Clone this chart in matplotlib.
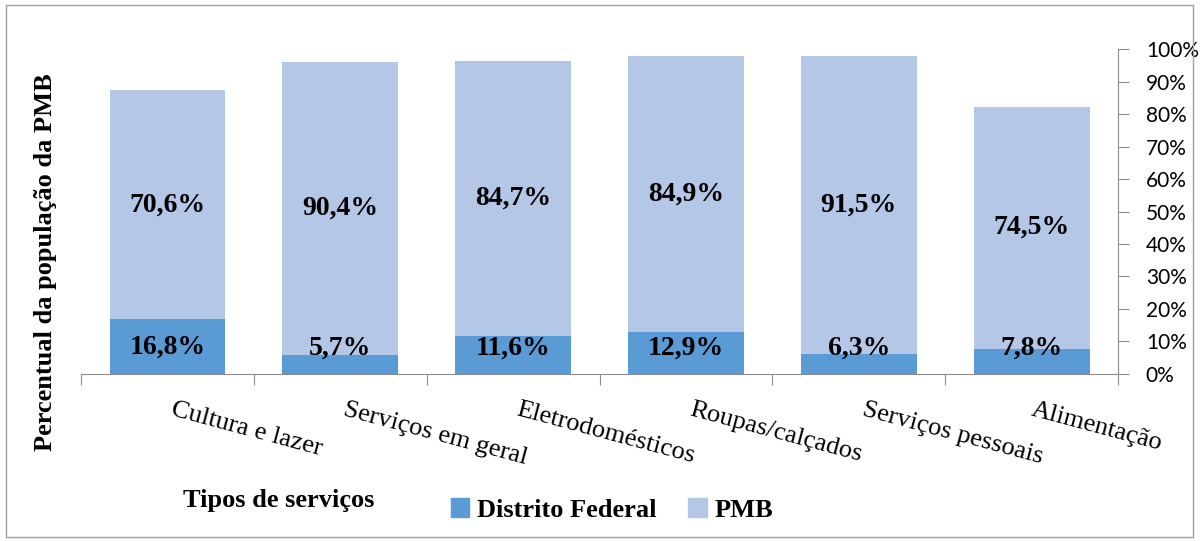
import numpy as np
import matplotlib
matplotlib.use('Agg')
import matplotlib.pyplot as plt
from matplotlib.patches import Rectangle, Patch
from matplotlib.ticker import FuncFormatter
from matplotlib.font_manager import FontProperties

categorias = ['Cultura e lazer', 'Serviços em geral', 'Eletrodomésticos',
              'Roupas/calçados', 'Serviços pessoais', 'Alimentação']
distrito_federal = np.array([16.8, 5.7, 11.6, 12.9, 6.3, 7.8])
pmb = np.array([70.6, 90.4, 84.7, 84.9, 91.5, 74.5])

cor_df = '#5B9BD5'
cor_pmb = '#B4C7E7'
cinza = '#8C8C8C'
serif = 'Liberation Serif'

fig = plt.figure(figsize=(12, 5.41), dpi=100)
ax = fig.add_axes([0.0675, 0.3087, 0.8642, 0.6007])

x = np.arange(len(categorias))
larg = 0.67
ax.bar(x, distrito_federal, larg, color=cor_df, label='Distrito Federal')
ax.bar(x, pmb, larg, bottom=distrito_federal, color=cor_pmb, label='PMB')

# rotulos de dados
for i in range(len(x)):
    yc = max(distrito_federal[i] / 2, 8)
    ax.text(x[i], yc, f'{distrito_federal[i]:.1f}%'.replace('.', ','),
            ha='center', va='center', fontsize=20, fontweight='bold', family=serif)
    yp = distrito_federal[i] + pmb[i] / 2
    ax.text(x[i], yp, f'{pmb[i]:.1f}%'.replace('.', ','),
            ha='center', va='center', fontsize=20, fontweight='bold', family=serif)

ax.set_xlim(-0.5, len(x) - 0.5)
ax.set_ylim(0, 100)
ax.yaxis.tick_right()
ax.set_yticks(np.arange(0, 101, 10))
ax.yaxis.set_major_formatter(FuncFormatter(lambda v, p: f'{v:.0f}%'))
ax.tick_params(axis='y', length=8, color=cinza, pad=12, labelsize=15,
               labelfontfamily='Lato')

ax.set_xticks(np.arange(-0.5, len(x), 1))
ax.set_xticklabels([])
ax.tick_params(axis='x', length=8, color=cinza)

for s in ['left', 'top']:
    ax.spines[s].set_visible(False)
ax.spines['bottom'].set_color(cinza)
ax.spines['right'].set_color(cinza)

# rotulos de categoria inclinados
fig.canvas.draw()
r = fig.canvas.get_renderer()
for i, nome in enumerate(categorias):
    t = ax.text(x[i] + 0.04, -7.5, nome, ha='left', va='top', rotation=-15,
                rotation_mode='anchor', fontsize=19, family=serif,
                transform=ax.transData)
    bb = t.get_window_extent(renderer=r)
    lim = fig.bbox.width - 35
    if bb.x1 > lim:
        px, py = ax.transData.transform((x[i] + 0.04, -7.5))
        t.set_position(ax.transData.inverted().transform((px - (bb.x1 - lim), py)))

fig.text(0.038, 0.516, 'Percentual da população da PMB', rotation=90,
         ha='center', va='center', fontsize=19, fontweight='bold', family=serif)
fig.text(0.232, 0.075, 'Tipos de serviços', ha='center', va='center',
         fontsize=19, fontweight='bold', family=serif)

handles = [Patch(color=cor_df), Patch(color=cor_pmb)]
fp = FontProperties(family=serif, weight='bold', size=19)
leg = fig.legend(handles, ['Distrito Federal', 'PMB'], loc='center',
                 bbox_to_anchor=(0.51, 0.057), ncol=2, frameon=False,
                 handlelength=0.7, handleheight=0.7, handletextpad=0.3,
                 columnspacing=1.2, prop=fp)

fig.patches.append(Rectangle((0.005, 0.008), 0.989, 0.982, transform=fig.transFigure,
                             fill=False, edgecolor='#A0A0A0', lw=1))

fig.savefig('out.png', dpi=100)
